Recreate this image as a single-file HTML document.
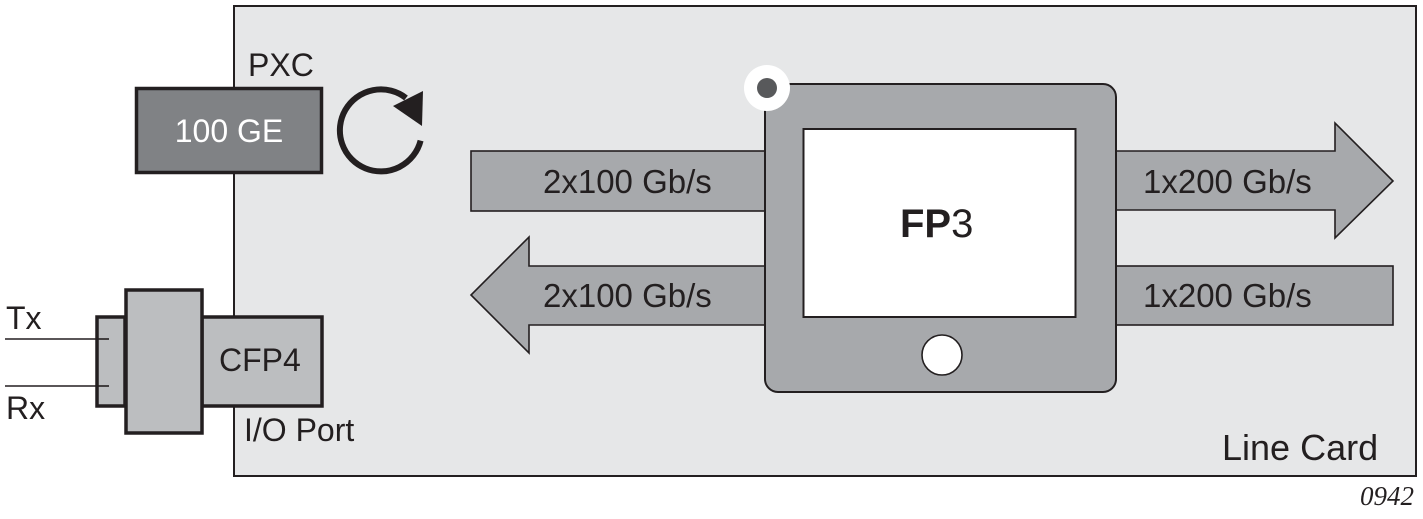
<!DOCTYPE html>
<html>
<head>
<meta charset="utf-8">
<style>
html,body{margin:0;padding:0;background:#fff;}
svg{display:block;}
text{font-family:"Liberation Sans",Arial,sans-serif;fill:#231f20;}
</style>
</head>
<body>
<svg width="1423" height="519" viewBox="0 0 1423 519" xmlns="http://www.w3.org/2000/svg">
  <!-- Line card -->
  <rect x="234" y="6" width="1182" height="470" fill="#e6e7e8" stroke="#231f20" stroke-width="2"/>

  <!-- PXC -->
  <text x="248" y="76" font-size="32">PXC</text>
  <rect x="136.5" y="88.5" width="185" height="84" fill="#808285" stroke="#231f20" stroke-width="3.5"/>
  <text x="229" y="142" font-size="32" text-anchor="middle" style="fill:#fff">100 GE</text>

  <!-- rotate arrow -->
  <path d="M 420.6 140.6 A 41 41 0 1 1 406 98" fill="none" stroke="#231f20" stroke-width="6"/>
  <polygon points="393,106 423,91 422,126" fill="#231f20"/>

  <!-- CFP4 module -->
  <line x1="5" y1="339" x2="109" y2="339" stroke="#231f20" stroke-width="1.6"/>
  <line x1="5" y1="386" x2="109" y2="386" stroke="#231f20" stroke-width="1.6"/>
  <rect x="97" y="317" width="28" height="89" fill="#bcbec0" stroke="#231f20" stroke-width="3.5"/>
  <line x1="97" y1="339" x2="109" y2="339" stroke="#231f20" stroke-width="1.6"/>
  <line x1="97" y1="386" x2="109" y2="386" stroke="#231f20" stroke-width="1.6"/>
  <rect x="202" y="317" width="120" height="89" fill="#bcbec0" stroke="#231f20" stroke-width="3.5"/>
  <rect x="126" y="290" width="76" height="143" fill="#bcbec0" stroke="#231f20" stroke-width="3.5"/>
  <text x="219" y="371" font-size="32">CFP4</text>
  <text x="6" y="329" font-size="32">Tx</text>
  <text x="6" y="419" font-size="32">Rx</text>
  <text x="244" y="441" font-size="32">I/O Port</text>

  <!-- left arrows -->
  <rect x="471" y="151" width="295" height="60" fill="#a7a9ac" stroke="#231f20" stroke-width="1.6"/>
  <text x="543" y="193" font-size="33">2x100 Gb/s</text>
  <polygon points="766,266 529,266 529,237 471,295 529,353 529,325 766,325" fill="#a7a9ac" stroke="#231f20" stroke-width="1.6"/>
  <text x="543" y="307" font-size="33">2x100 Gb/s</text>

  <!-- right arrows -->
  <polygon points="1114,151 1335,151 1335,123 1393,181 1335,238 1335,210 1114,210" fill="#a7a9ac" stroke="#231f20" stroke-width="1.6"/>
  <text x="1143" y="193" font-size="33">1x200 Gb/s</text>
  <rect x="1114" y="266" width="279" height="59" fill="#a7a9ac" stroke="#231f20" stroke-width="1.6"/>
  <text x="1143" y="307" font-size="33">1x200 Gb/s</text>

  <!-- FP3 -->
  <rect x="765" y="84" width="351" height="308" rx="13" ry="13" fill="#a7a9ac" stroke="#231f20" stroke-width="2"/>
  <rect x="803.5" y="129" width="272" height="188" fill="#fff" stroke="#231f20" stroke-width="2"/>
  <text x="900" y="237" font-size="40"><tspan font-weight="bold">FP</tspan>3</text>
  <circle cx="942" cy="355" r="20" fill="#fff" stroke="#231f20" stroke-width="1.6"/>
  <circle cx="767" cy="88" r="23" fill="#fff"/>
  <circle cx="767" cy="88" r="10" fill="#58595b"/>

  <!-- labels -->
  <text x="1222" y="460" font-size="36">Line Card</text>
  <text x="1360" y="505" font-size="27" font-style="italic" style="font-family:'Liberation Serif','Times New Roman',serif">0942</text>
</svg>
</body>
</html>
